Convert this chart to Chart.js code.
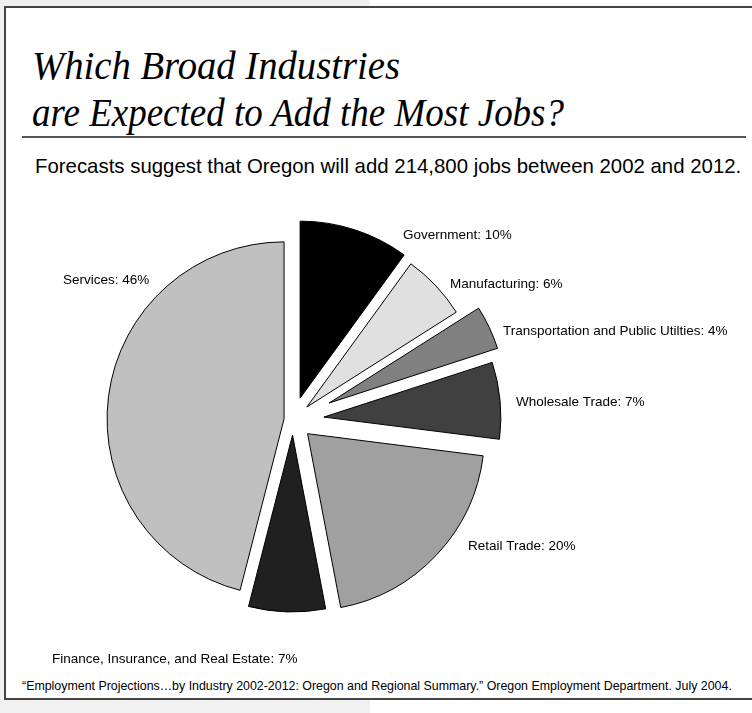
<!DOCTYPE html>
<html>
<head>
<meta charset="utf-8">
<script src="https://cdn.jsdelivr.net/npm/chart.js@4.4.0/dist/chart.umd.min.js"></script>
<style>
  html, body { margin: 0; padding: 0; width: 752px; height: 713px; overflow: hidden; background: #ffffff; }
  #shade { position: absolute; left: 0; top: 0; width: 370px; height: 713px; background: #f0f0f0; }
  #frame { position: absolute; left: 4px; top: 6px; width: 800px; height: 690px; border: 2px solid #444444; background: #ffffff; }
  .title { position: absolute; left: 32px; font-family: "Liberation Serif", "Times New Roman", serif; font-style: italic;
           font-size: 41px; line-height: 41px; color: #000; white-space: nowrap; transform-origin: 0 0; }
  #rule { position: absolute; left: 22px; top: 136px; width: 724px; height: 2px; background: #555555; }
  #sub { position: absolute; left: 35px; top: 154px; font-family: "Liberation Sans", Arial, sans-serif; font-size: 20.4px;
         line-height: 24px; color: #000; white-space: nowrap; }
  #src { position: absolute; left: 22px; top: 678px; font-family: "Liberation Sans", Arial, sans-serif; font-size: 12.4px;
         line-height: 16px; color: #000; white-space: nowrap; }
  #chart { position: absolute; left: 0; top: 0; }
</style>
</head>
<body>
<div id="shade"></div>
<div id="frame"></div>
<div class="title" id="t1" data-w="368" style="top:45px">Which Broad Industries</div>
<div class="title" id="t2" data-w="532" style="top:92px">are Expected to Add the Most Jobs?</div>
<div id="rule"></div>
<div id="sub">Forecasts suggest that Oregon will add 214,800 jobs between 2002 and 2012.</div>
<div id="src">“Employment Projections…by Industry 2002-2012: Oregon and Regional Summary.” Oregon Employment Department. July 2004.</div>
<canvas id="chart" width="752" height="713"></canvas>
<script>
// Job growth by broad industry, Oregon 2002-2012 (share of 214,800 new jobs)
const categories = [
  'Government',
  'Manufacturing',
  'Transportation and Public Utilties',
  'Wholesale Trade',
  'Retail Trade',
  'Finance, Insurance, and Real Estate',
  'Services'
];
const shares = [10, 6, 4, 7, 20, 7, 46];

// Slice fills, explode distances (px) and label anchors (relative to pie centre)
const sliceColors = ['#000000', '#e0e0e0', '#808080', '#404040', '#a0a0a0', '#202020', '#c0c0c0'];
const explode = [23, 19, 40, 31, 20, 15, 9];
const labelAnchors = [[110, -185], [157, -136], [210, -89], [223, -18], [175, 126], [-241, 239], [-230, -140]];

// Fit the serif title lines to their set widths
document.querySelectorAll('.title').forEach(el => {
  const w = el.getBoundingClientRect().width;
  el.style.transform = 'scaleX(' + (parseFloat(el.dataset.w) / w) + ')';
});

// Pie controller that pulls every slice out along its mid-angle
class ExplodedPieController extends Chart.PieController {
  draw() {
    const ctx = this.chart.ctx;
    const arcs = this._cachedMeta.data;
    arcs.forEach((arc, i) => {
      const mid = (arc.startAngle + arc.endAngle) / 2;
      const d = explode[i] || 0;
      ctx.save();
      ctx.translate(Math.cos(mid) * d, Math.sin(mid) * d);
      arc.draw(ctx, this.chart.chartArea);
      ctx.restore();
    });
  }
}
ExplodedPieController.id = 'explodedPie';
ExplodedPieController.defaults = Chart.PieController.defaults;
ExplodedPieController.overrides = Chart.PieController.overrides;
Chart.register(ExplodedPieController);

const sliceLabels = {
  id: 'sliceLabels',
  afterDatasetsDraw(chart) {
    const ctx = chart.ctx;
    const first = chart.getDatasetMeta(0).data[0];
    const cx = first.x, cy = first.y;
    ctx.save();
    ctx.font = '13.5px "Liberation Sans", Arial, sans-serif';
    ctx.fillStyle = '#000';
    ctx.textAlign = 'left';
    ctx.textBaseline = 'middle';
    categories.forEach((name, i) => {
      ctx.fillText(name + ': ' + shares[i] + '%', cx + labelAnchors[i][0], cy + labelAnchors[i][1]);
    });
    ctx.restore();
  }
};

new Chart(document.getElementById('chart'), {
  type: 'explodedPie',
  data: {
    labels: categories,
    datasets: [{
      data: shares,
      backgroundColor: sliceColors,
      borderColor: '#000000',
      borderWidth: 1,
      radius: 177
    }]
  },
  options: {
    responsive: false,
    animation: false,
    events: [],
    layout: { padding: { left: 0, right: 166, top: 127, bottom: 0 } },
    plugins: { legend: { display: false }, tooltip: { enabled: false } }
  },
  plugins: [sliceLabels]
});
</script>
</body>
</html>
